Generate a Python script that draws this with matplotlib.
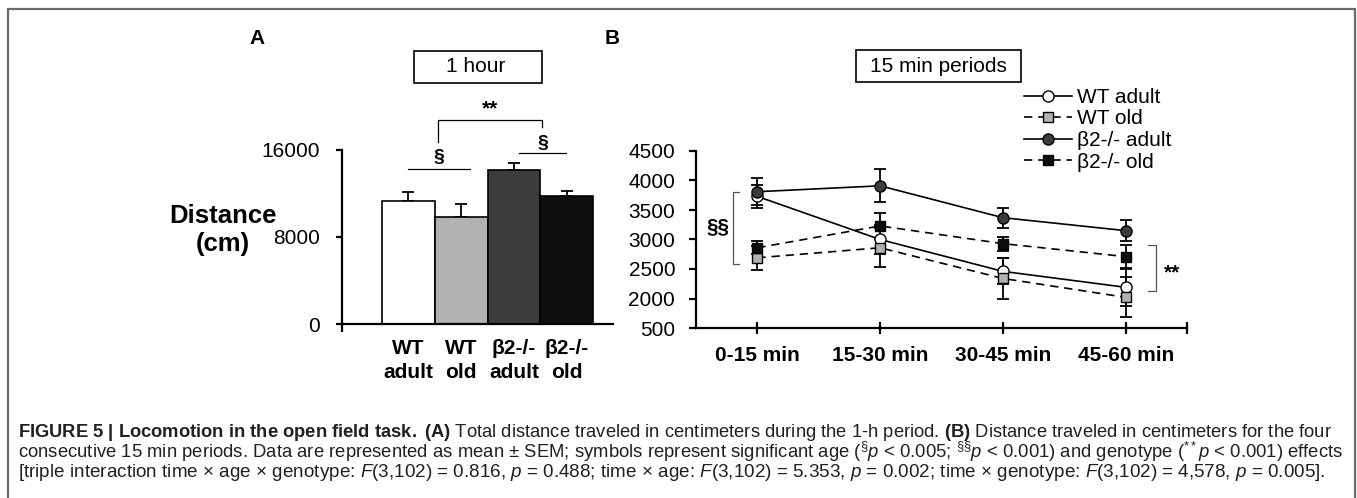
import matplotlib
matplotlib.use('Agg')
import matplotlib.pyplot as plt
from matplotlib.patches import Rectangle

plt.rcParams['font.family'] = ['Liberation Sans', 'DejaVu Sans']
plt.rcParams['mathtext.fontset'] = 'custom'
plt.rcParams['mathtext.rm'] = 'Liberation Sans'
plt.rcParams['mathtext.it'] = 'Liberation Sans:italic'
plt.rcParams['mathtext.bf'] = 'Liberation Sans:bold'

# Panel A data: total distance over 1 hour (mean, SEM)
groups = ['WT\nadult', 'WT\nold', 'β2-/-\nadult', 'β2-/-\nold']
total_mean = [11300, 9850, 14200, 11750]
total_sem = [850, 1150, 600, 500]
bar_colors = ['white', '#b2b2b2', '#3c3c3c', '#0e0e0e']

# Panel B data: distance per 15 min period
periods = ['0-15 min', '15-30 min', '30-45 min', '45-60 min']
wt_adult = [3730, 3000, 2460, 2190]
wt_adult_sem = [190, 250, 220, 310]
wt_old = [2690, 2860, 2340, 2020]
wt_old_sem = [200, 330, 340, 340]
b2_adult = [3810, 3910, 3370, 3150]
b2_adult_sem = [230, 280, 170, 175]
b2_old = [2860, 3230, 2930, 2710]
b2_old_sem = [110, 225, 120, 190]
y_ticks_b = [1500, 2000, 2500, 3000, 3500, 4000, 4500]
y_ticklabels_b = ['500', '2000', '2500', '3000', '3500', '4000', '4500']

W, H = 1357, 498
fig = plt.figure(figsize=(W / 100, H / 100), dpi=100)


def fx(px):
    return px / W


def fy(py):
    return 1 - py / H


# outer border
fig.add_artist(Rectangle((fx(8), -0.1), fx(1355) - fx(8), fy(9) + 0.1, transform=fig.transFigure,
                         fill=False, edgecolor='#6a6a6a', linewidth=1.6))

# ---------- Panel A ----------
axA = fig.add_axes([fx(342), fy(324), fx(613) - fx(342), fy(150) - fy(324)])
x = range(len(groups))
axA.bar(x, total_mean, width=1.0, color=bar_colors, edgecolor='black', linewidth=1.2, zorder=2)
axA.errorbar(x, total_mean, yerr=[[0] * 4, total_sem], fmt='none', ecolor='black',
             elinewidth=1.3, capsize=4, capthick=1.3, zorder=1)
axA.set_xlim(-1.26, 3.88)
axA.set_ylim(0, 16000)
axA.set_yticks([0, 8000, 16000])
axA.set_xticks(list(x))
axA.set_xticklabels(groups, fontsize=15, fontweight='bold', linespacing=1.3)
axA.set_xticks([-1.26], minor=True)
axA.tick_params(axis='x', which='major', length=0, pad=11)
axA.tick_params(axis='x', which='minor', length=6, width=1.6, direction='out')
axA.tick_params(axis='y', length=4, width=1.6, direction='out', labelsize=15, pad=12)
for s in ['top', 'right']:
    axA.spines[s].set_visible(False)
for s in ['left', 'bottom']:
    axA.spines[s].set_linewidth(1.6)

# significance marks on A
axA.plot([0, 1.17], [14250, 14250], color='black', lw=0.9, clip_on=False)
axA.text(0.58, 15350, '§', ha='center', va='center', fontsize=14, fontweight='bold')
axA.plot([2.1, 2.99], [15720, 15720], color='black', lw=0.9, clip_on=False)
axA.text(2.55, 16640, '§', ha='center', va='center', fontsize=14, fontweight='bold')
axA.plot([0.56, 0.56, 2.53, 2.53], [16730, 18760, 18760, 18110], color='black', lw=0.9, clip_on=False)
axA.text(1.55, 19800, '**', ha='center', va='center', fontsize=15, fontweight='bold')

fig.text(fx(223), fy(230), 'Distance\n(cm)', ha='center', va='center', fontsize=18.5,
         fontweight='bold', linespacing=1.25)
fig.text(fx(257), fy(38), 'A', ha='center', va='center', fontsize=15, fontweight='bold')
fig.add_artist(Rectangle((fx(414), fy(83)), fx(542) - fx(414), fy(51) - fy(83), transform=fig.transFigure,
                         fill=False, edgecolor='black', linewidth=1.2))
fig.text(fx(476), fy(67), '1 hour', ha='center', va='center', fontsize=15)

# ---------- Panel B ----------
axB = fig.add_axes([fx(696), fy(328), fx(1187) - fx(696), fy(151) - fy(328)])
t = range(len(periods))
series = [
    (wt_adult, wt_adult_sem, 'WT adult', '-', 'o', 'white', 3),
    (wt_old, wt_old_sem, 'WT old', (0, (5, 3.5)), 's', '#b2b2b2', 4),
    (b2_adult, b2_adult_sem, 'β2-/- adult', '-', 'o', '#3c3c3c', 5),
    (b2_old, b2_old_sem, 'β2-/- old', (0, (5, 3.5)), 's', '#0e0e0e', 6),
]
handles = []
for vals, sem, label, ls, mk, fc, z in series:
    axB.errorbar(t, vals, yerr=sem, fmt='none', ecolor='black', elinewidth=1.3, capsize=4,
                 capthick=1.3, zorder=2)
    ms = 8 if mk == 'o' else 7.3
    line, = axB.plot(t, vals, linestyle=ls, color='black', linewidth=1.2, marker=mk,
                     markersize=ms, markerfacecolor=fc, markeredgecolor='black',
                     markeredgewidth=1.0, label=label, zorder=z)
    handles.append(line)

axB.set_xlim(-0.5, 3.5)
axB.set_ylim(1500, 4500)
axB.set_yticks(y_ticks_b)
axB.set_yticklabels(y_ticklabels_b)
axB.set_xticks(list(t))
axB.set_xticklabels(periods, fontsize=15, fontweight='bold')
axB.set_xticks([3.5], minor=True)
axB.tick_params(axis='x', which='both', length=8, width=1.6, direction='inout', pad=9)
axB.tick_params(axis='y', length=5, width=1.6, direction='out', labelsize=15, pad=10)
for s in ['top', 'right']:
    axB.spines[s].set_visible(False)
for s in ['left', 'bottom']:
    axB.spines[s].set_linewidth(1.6)

# brackets on B
axB.plot([-0.146, -0.195, -0.195, -0.146], [3807, 3807, 2591, 2591], color='#555555', lw=0.9, clip_on=False)
axB.text(-0.324, 3216, '§§', ha='center', va='center', fontsize=15, fontweight='bold')
axB.plot([3.18, 3.244, 3.244, 3.18], [2912, 2912, 2135, 2135], color='#555555', lw=0.9, clip_on=False)
axB.text(3.38, 2430, '**', ha='center', va='center', fontsize=15, fontweight='bold')

fig.legend(handles=handles, loc='upper left', bbox_to_anchor=(fx(1024), fy(88)), frameon=False,
           fontsize=15, handlelength=2.3, handletextpad=0.25, labelspacing=0.12, borderpad=0,
           borderaxespad=0, numpoints=1)

fig.text(fx(612), fy(38), 'B', ha='center', va='center', fontsize=15, fontweight='bold')
fig.add_artist(Rectangle((fx(856), fy(82)), fx(1021) - fx(856), fy(50) - fy(82), transform=fig.transFigure,
                         fill=False, edgecolor='black', linewidth=1.2))
fig.text(fx(938), fy(66), '15 min periods', ha='center', va='center', fontsize=15)

# ---------- caption ----------
caption = [
    (r'$\mathbf{FIGURE\ 5\ |\ Locomotion\ in\ the\ open\ field\ task.\ (A)}$ Total distance traveled in '
     r'centimeters during the 1-h period. $\mathbf{(B)}$ Distance traveled in centimeters for the four', 432, 1332),
    (r'consecutive 15 min periods. Data are represented as mean ± SEM; symbols represent significant age '
     r'($^{§}\mathit{p}$ < 0.005; $^{§§}\mathit{p}$ < 0.001) and genotype ($^{**}\mathit{p}$ < 0.001) effects', 452, 1345),
    (r'[triple interaction time × age × genotype: $\mathit{F}$(3,102) = 0.816, $\mathit{p}$ = 0.488; '
     r'time × age: $\mathit{F}$(3,102) = 5.353, $\mathit{p}$ = 0.002; time × genotype: '
     r'$\mathit{F}$(3,102) = 4,578, $\mathit{p}$ = 0.005].', 472, 1328),
]
renderer = fig.canvas.get_renderer()
for txt, py, right in caption:
    c = fig.text(fx(18), fy(py), txt, ha='left', va='center', fontsize=11, color='#231f20')
    w = c.get_window_extent(renderer=renderer).width
    c.set_fontsize(11 * (right - 18) / w)

fig.savefig('out.png', dpi=100)
